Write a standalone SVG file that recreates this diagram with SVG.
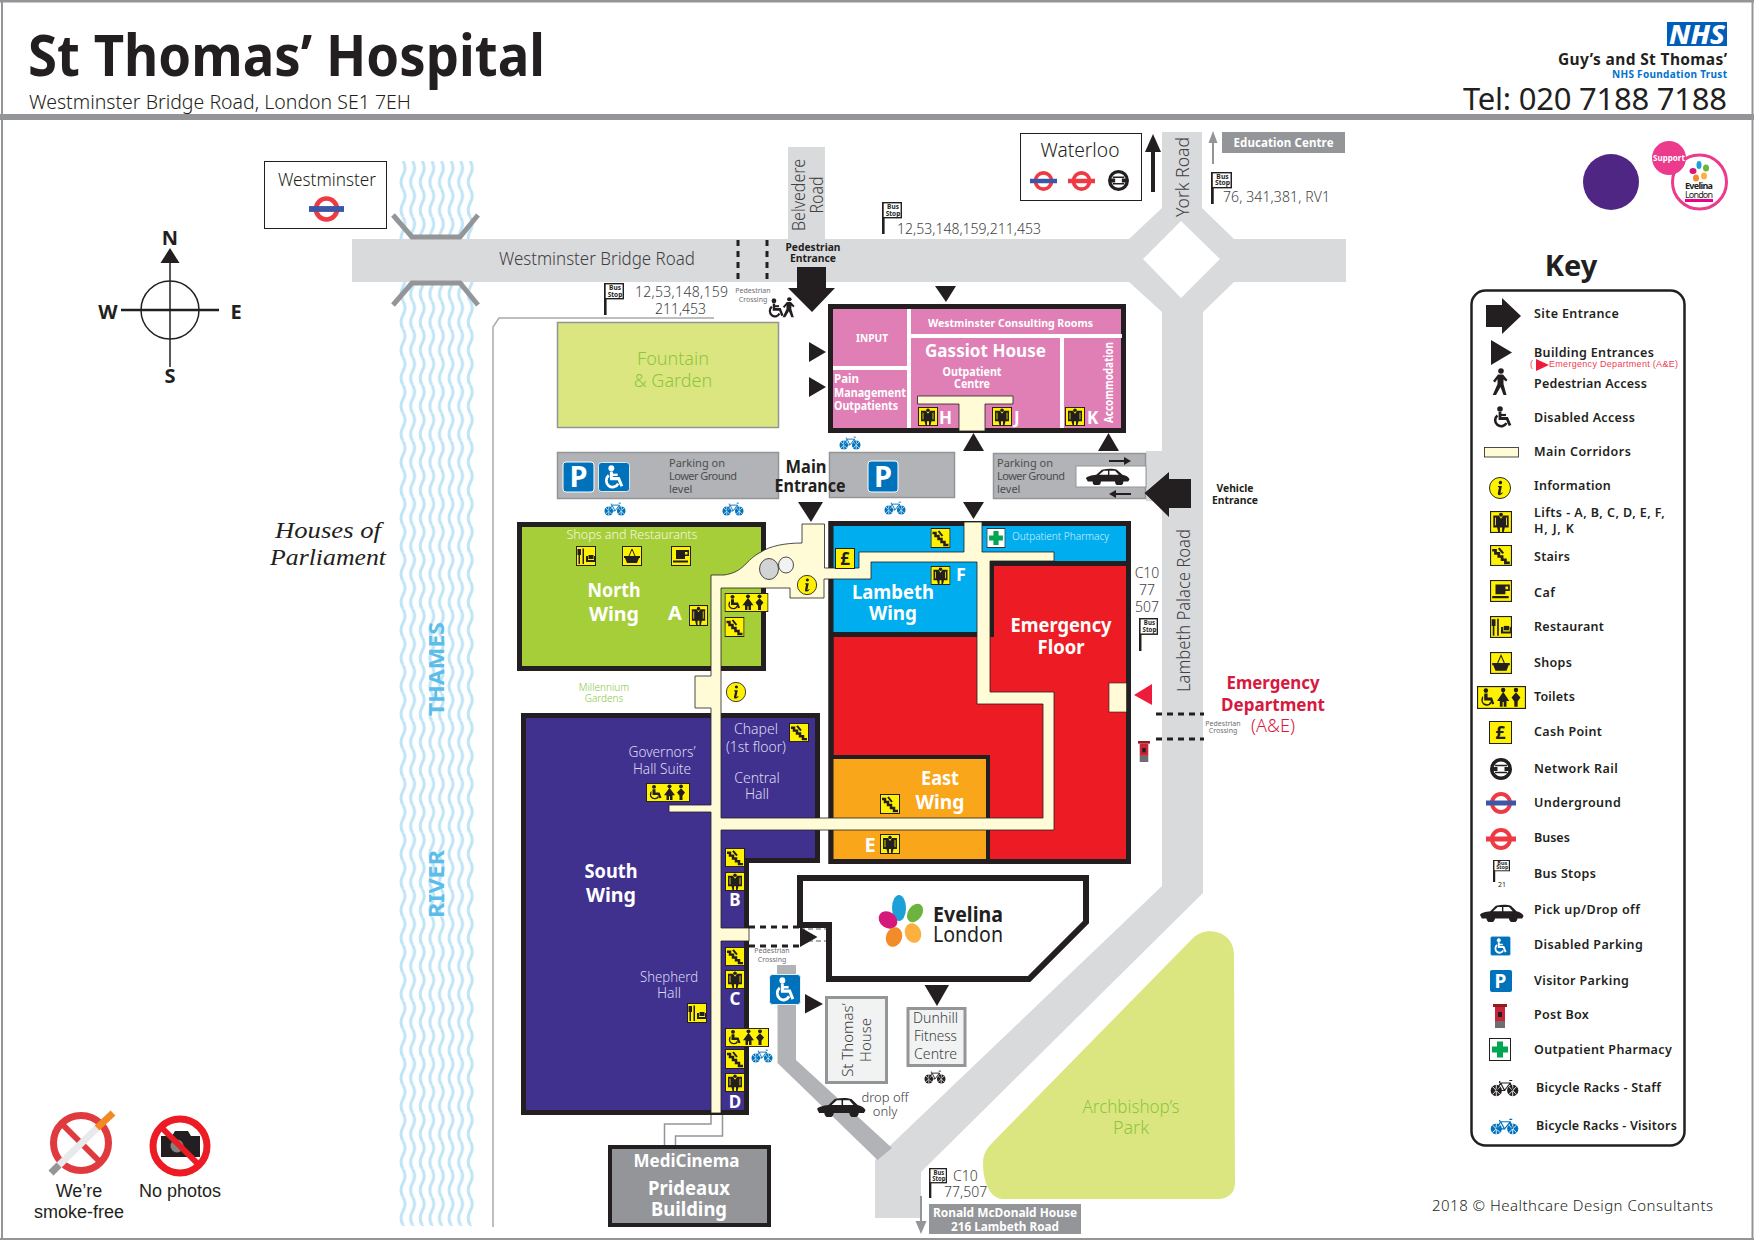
<svg xmlns="http://www.w3.org/2000/svg" width="1754" height="1240" viewBox="0 0 1754 1240">
<style>
text{font-family:"Noto Sans","Open Sans","Liberation Sans",sans-serif;fill:#231f20}
.m{text-anchor:middle}
.b{font-weight:700}
.l{font-weight:300}
.w{fill:#fff}
.k{font-size:12.5px;font-weight:600;letter-spacing:.2px}
.road{fill:#d9dadc}
.lot{fill:#b1b3b6;stroke:#939598;stroke-width:1.5}
.blk{fill:#231f20}
.ptxt{font-size:11px;fill:#4d4d4f}
.bus{font-size:14px;fill:#414042;font-weight:300}
.wing{font-size:20px;font-weight:700;fill:#fff;text-anchor:middle}
.sw{font-size:14px;fill:#dcdcf0;text-anchor:middle;font-weight:300}
.road-t{font-size:18px;fill:#414042;font-weight:300}
.thin{font-size:7px;fill:#6d6e71;text-anchor:middle}
.dash{stroke:#231f20;stroke-width:3;stroke-dasharray:6 5;fill:none}
.white{stroke:#fff;stroke-width:4;fill:none}
.gr{fill:#8cc63f;font-weight:300}
.dk{fill:#414042;font-weight:300}
</style>
<defs>
<pattern id="waves" patternUnits="userSpaceOnUse" x="398" y="161" width="9.6" height="28">
<path d="M5 0Q9 7 5 14T5 28" fill="none" stroke="#bfe4f6" stroke-width="3"/>
</pattern>
<symbol id="i-lift" viewBox="0 0 20 20" preserveAspectRatio="none">
<rect x=".5" y=".5" width="19" height="19" fill="#fff200" stroke="#231f20"/>
<path fill="#231f20" d="M3 4H8L10 7 12 4H17V15H13.500L12.500 19H11V15H9V19H7.500L6.500 15H3Z"/>
<circle cx="10" cy="3.500" r="1.800" fill="#231f20"/>
<path d="M5 6V13M15 6V13" stroke="#fff200" stroke-width=".8"/>
</symbol>
<symbol id="i-stairs" viewBox="0 0 20 20" preserveAspectRatio="none">
<rect x=".5" y=".5" width="19" height="19" fill="#fff200" stroke="#231f20"/>
<path fill="none" stroke="#231f20" stroke-width="2.500" d="M2 5H5V8H8V11H11V14H14V17H18"/>
<path fill="none" stroke="#231f20" stroke-width="2" d="M8 3 12 8"/>
</symbol>
<symbol id="i-cafe" viewBox="0 0 20 20" preserveAspectRatio="none">
<rect x=".5" y=".5" width="19" height="19" fill="#fff200" stroke="#231f20"/>
<path fill="#231f20" d="M5 4H18V10H14V13H5ZM14 6V8.500H16.500V6ZM2 14.500H17V16.500H2Z" fill-rule="evenodd"/>
</symbol>
<symbol id="i-rest" viewBox="0 0 20 20" preserveAspectRatio="none">
<rect x=".5" y=".5" width="19" height="19" fill="#fff200" stroke="#231f20"/>
<path fill="#231f20" d="M1.500 3H5V9H4V18H2.500V9H1.500ZM6.500 2.500H8V18H6.500ZM10 10H12V14H18V10H19V16H10Z"/>
<rect x="12.500" y="9" width="5" height="4" fill="#231f20"/>
</symbol>
<symbol id="i-shop" viewBox="0 0 20 20" preserveAspectRatio="none">
<rect x=".5" y=".5" width="19" height="19" fill="#fff200" stroke="#231f20"/>
<path fill="none" stroke="#231f20" d="M7 10 10 3 13 10"/>
<path fill="#231f20" d="M2 10H18V12H17L15 17H5L3 12H2Z"/>
</symbol>
<symbol id="i-wc" viewBox="0 0 44 20" preserveAspectRatio="none">
<rect x=".5" y=".5" width="43" height="19" fill="#fff200" stroke="#231f20"/>
<g fill="#231f20">
<circle cx="8" cy="4" r="2"/>
<path d="M6.500 6.500H9.500V10H13.500L15.500 15.500 13.500 16 12 12.500H6.500Z"/>
<path d="M5.500 8.500A5 5 0 1 0 13 15L12 13.500A3.200 3.200 0 1 1 5.500 11Z"/>
<circle cx="23.500" cy="3.500" r="2"/><path d="M23.500 5 29 13H26.500V18H24V14H23V18H20.500V13H18Z"/>
<circle cx="35" cy="3.500" r="2"/><path d="M35 5.500 39 10 36.500 13.500V18H33.500V13.500L31 10Z"/>
</g>
</symbol>
<symbol id="i-info" viewBox="0 0 24 24">
<circle cx="12" cy="12" r="11" fill="#fff200" stroke="#231f20" stroke-width="1"/>
<path d="M12.500 4.500a1.800 1.800 0 1 1-.1 0ZM10 10H14L12.500 17C12.300 18 13 18 14.500 16.500L15 17C13 20 9 20.500 9.800 17L11 11.500 9.700 11Z" fill="#231f20"/>
</symbol>
<symbol id="i-bus" viewBox="0 0 20 32" preserveAspectRatio="none">
<rect width="2.600" height="32" fill="#231f20"/>
<rect x="1" y=".7" width="18.300" height="15" fill="#fff" stroke="#231f20" stroke-width="1.400"/>
<text x="11" y="7" class="m b" font-size="6.500">Bus</text>
<text x="11" y="13.500" class="m b" font-size="6.500">Stop</text>
</symbol>
<symbol id="i-bike" viewBox="0 0 30 18" preserveAspectRatio="none">
<g fill="currentColor">
<circle cx="6.500" cy="11.500" r="5.800"/><circle cx="23.500" cy="11.500" r="5.800"/>
</g>
<g stroke="#fff" stroke-width=".9">
<path d="M2.500 7.500 10.500 15.500M2.500 15.500 10.500 7.500M19.500 7.500 27.500 15.500M19.500 15.500 27.500 7.500M6.500 5.500V17.500M23.500 5.500V17.500"/>
</g>
<path d="M6.500 11.500 11 4H21L23.500 11.500M11 4 15 11.500H6.500M15 11.500 21 4M10 2V4M20 1.500H23" fill="none" stroke="currentColor" stroke-width="1.200"/>
</symbol>
<symbol id="i-chair" viewBox="0 0 20 22" preserveAspectRatio="none">
<circle cx="7" cy="3" r="2.800" fill="currentColor"/>
<path d="M7 6V12.500H14L17 19.500" fill="none" stroke="currentColor" stroke-width="2.800"/>
<path d="M7 9H13" fill="none" stroke="currentColor" stroke-width="2.200"/>
<path d="M4.500 9.500A6 6 0 1 0 13.500 17" fill="none" stroke="currentColor" stroke-width="2.600"/>
</symbol>
<symbol id="i-walk" viewBox="0 0 16 28" preserveAspectRatio="none">
<circle cx="9" cy="3" r="2.800" fill="#231f20"/>
<path fill="#231f20" d="M6 6.500H11L15.500 12 14 13.500 11.500 11.500V16L14.500 27H11.500L8.500 19 4 27H.7L5.500 16V11L3 14.500 1 13Z"/>
</symbol>
<symbol id="i-car" viewBox="0 0 48 20" preserveAspectRatio="none">
<path fill="#231f20" d="M1 12C2 10 7 8.500 12 8L18 2C24 .5 30 .5 34 2L40 8C44 9 47 11 47.500 13.500L46 16H41A4.500 4.500 0 0 1 32 16H17A4.500 4.500 0 0 1 8 16H3Z"/>
<path fill="#fff" d="M15 8 20 3.200H24.500V8ZM26 8V3.200H32L36 8Z"/>
<circle cx="12.500" cy="16" r="3.800" fill="#231f20"/><circle cx="36.500" cy="16" r="3.800" fill="#231f20"/>
</symbol>
<symbol id="i-ug" viewBox="0 0 30 24">
<circle cx="15" cy="12" r="9" fill="#fff" stroke="#ee3a43" stroke-width="4"/>
<rect y="9.500" width="30" height="5" fill="#3d56a6"/>
</symbol>
<symbol id="i-bs" viewBox="0 0 30 24">
<circle cx="15" cy="12" r="9" fill="#fff" stroke="#ee3a43" stroke-width="4"/>
<rect y="9.500" width="30" height="5" fill="#ee3a43"/>
</symbol>
<symbol id="i-rail" viewBox="0 0 22 22">
<circle cx="11" cy="11" r="9.300" fill="#fff" stroke="#231f20" stroke-width="3.400"/>
<path d="M2 11H7.500M14.500 11H20" stroke="#231f20" stroke-width="4"/>
<path d="M5 7.500H17M5 14.500H17" stroke="#231f20" stroke-width="1.600"/>
</symbol>
<symbol id="i-disabled" viewBox="0 0 32 30" preserveAspectRatio="none">
<rect x=".5" y=".5" width="31" height="29" rx="3" fill="#0072bc" stroke="#fff" stroke-width=".8"/>
<use href="#i-chair" x="6" y="3" width="21" height="24" color="#fff"/>
</symbol>
<symbol id="i-post" viewBox="0 0 14 24" preserveAspectRatio="none">
<rect x="0" y="0" width="14" height="3" fill="#8f1d21"/>
<rect x="2" y="3" width="10" height="14" fill="#c8243a"/>
<rect x="5" y="8" width="4" height="5" fill="#231f20"/>
<rect x="2" y="17" width="10" height="7" fill="#6d6e71"/>
</symbol>
<symbol id="i-pharm" viewBox="0 0 22 23" preserveAspectRatio="none">
<rect x=".5" y=".5" width="21" height="22" fill="#fff" stroke="#231f20"/>
<path fill="#00a651" d="M8 3.500H14V8.500H19V14.500H14V19.500H8V14.500H3V8.500H8Z"/>
</symbol>
</defs>

<rect width="1754" height="1240" fill="#fff"/>

<g id="frame" fill="#939598">
<rect width="1754" height="2.500"/>
<rect x="0" y="114" width="1754" height="6"/>
<rect x="1" width="2" height="1240"/>
<rect x="1751.500" width="2" height="1240"/>
<rect y="1238" width="1754" height="2"/>
</g>

<g id="header">
<text x="28" y="76" font-size="57" class="b" textLength="517" lengthAdjust="spacingAndGlyphs">St Thomas’ Hospital</text>
<text x="29" y="109" font-size="20" class="l" fill="#414042" textLength="382" lengthAdjust="spacingAndGlyphs">Westminster Bridge Road, London SE1 7EH</text>
<g id="nhs-logo">
<rect x="1667" y="22" width="60" height="24" fill="#005eb8"/>
<text x="1697" y="43.500" font-size="26" class="m w" font-weight="800" font-style="italic" textLength="56" lengthAdjust="spacingAndGlyphs">NHS</text>
</g>
<text x="1558" y="64.500" font-size="15.500" class="b" textLength="169">Guy’s and St Thomas’</text>
<text x="1612" y="78" font-size="10" class="b" style="fill:#0072ce" textLength="115">NHS Foundation Trust</text>
<text x="1463" y="110" font-size="31" textLength="264">Tel: 020 7188 7188</text>
</g>

<g id="river">
<rect x="398" y="161" width="76" height="1065" fill="url(#waves)"/>
</g>

<g id="roads">
<rect class="road" x="788" y="147" width="37" height="92"/>
<rect class="road" x="352" y="239" width="994" height="43"/>
<path class="road" d="M1162 132H1202V208L1234 239V282L1203 312V893L921 1172V1218H875V1160L1162 886V312L1129 282V239L1162 208Z"/>
<path fill="#fff" d="M1181 221 1143 259 1181 298 1220 259Z"/>
<rect class="road" x="1146" y="451" width="17" height="50"/>
<path fill="#b1b3b6" d="M777.500 1005H796V1060L892 1148 877.500 1160 777.500 1063ZM777 965H796V974H777Z"/>
<path fill="none" stroke="#939598" stroke-width="5" d="M393 215 412 237H460L478 215M393 305 412 283H460L478 305"/>
<path fill="none" stroke="#a7a9ac" stroke-width="1.500" d="M714 318H499L493 327V1227"/>
<path fill="none" stroke="#939598" stroke-width="1.500" d="M711 1113V1124H664.500V1145M722.500 1113V1136H675.500V1145"/>
<text class="road-t" x="499" y="265" textLength="196" lengthAdjust="spacingAndGlyphs">Westminster Bridge Road</text>
<text class="road-t" transform="translate(805 195) rotate(-90)" text-anchor="middle" font-size="17" textLength="72" lengthAdjust="spacingAndGlyphs">Belvedere</text>
<text class="road-t" transform="translate(823 195) rotate(-90)" text-anchor="middle" font-size="17" textLength="37" lengthAdjust="spacingAndGlyphs">Road</text>
<text class="road-t" transform="translate(1189 217) rotate(-90)" textLength="80" lengthAdjust="spacingAndGlyphs">York Road</text>
<text class="road-t" transform="translate(1190 692) rotate(-90)" textLength="163" lengthAdjust="spacingAndGlyphs">Lambeth Palace Road</text>
<text x="0" y="0" transform="translate(444 669) rotate(-90)" class="m b" style="fill:#5bbde8" font-size="21" textLength="94" lengthAdjust="spacingAndGlyphs">THAMES</text>
<text x="0" y="0" transform="translate(444 884) rotate(-90)" class="m b" style="fill:#5bbde8" font-size="21" textLength="68" lengthAdjust="spacingAndGlyphs">RIVER</text>
</g>

<g id="compass">
<circle cx="170" cy="310" r="29" fill="none" stroke="#231f20" stroke-width="1.500"/>
<path d="M170 263V367" stroke="#231f20" stroke-width="1.500"/>
<path d="M121 310H219" stroke="#231f20" stroke-width="2.500"/>
<path class="blk" d="M170 248 179.500 263H160.500Z"/>
<text x="170" y="245" class="m b" font-size="20">N</text>
<text x="108" y="319" class="m b" font-size="20">W</text>
<text x="236" y="319" class="m b" font-size="20">E</text>
<text x="170" y="383" class="m b" font-size="20">S</text>
</g>

<g id="westminster-station">
<rect x="264.500" y="161.500" width="122" height="67" fill="#fff" stroke="#231f20"/>
<text x="327" y="186" class="m l" font-size="18" fill="#414042" textLength="98" lengthAdjust="spacingAndGlyphs">Westminster</text>
<use href="#i-ug" x="309" y="195" width="35" height="28"/>
</g>
<g id="waterloo-station">
<rect x="1020.500" y="133.500" width="121" height="67" fill="#fff" stroke="#231f20"/>
<text x="1080" y="157" class="m l" font-size="20" fill="#414042" textLength="79" lengthAdjust="spacingAndGlyphs">Waterloo</text>
<use href="#i-ug" x="1030" y="170" width="27" height="22"/>
<use href="#i-bs" x="1068" y="170" width="27" height="22"/>
<use href="#i-rail" x="1108" y="170" width="21" height="21"/>
</g>

<g id="education">
<rect x="1222" y="132" width="123" height="21" fill="#939598"/>
<text x="1283.500" y="147" class="m b w" font-size="11.500" textLength="100">Education Centre</text>
</g>

<g id="bus-stops">
<use href="#i-bus" x="1211" y="172" width="21" height="32"/>
<text class="bus" x="1223" y="202" textLength="107">76, 341,381, RV1</text>
<use href="#i-bus" x="882" y="202" width="20" height="32"/>
<text class="bus" x="897" y="234" textLength="144">12,53,148,159,211,453</text>
<use href="#i-bus" x="604" y="283" width="20" height="32"/>
<text class="bus" x="635" y="297" textLength="93">12,53,148,159</text>
<text class="bus" x="655" y="314" textLength="51">211,453</text>
<use href="#i-bus" x="1139" y="618" width="19" height="33"/>
<text class="bus m" x="1147" y="578">C10</text>
<text class="bus m" x="1147" y="595">77</text>
<text class="bus m" x="1147" y="612">507</text>
<use href="#i-bus" x="929" y="1168" width="18" height="30"/>
<text class="bus" x="953" y="1181">C10</text>
<text class="bus" x="944" y="1197">77,507</text>
</g>

<g id="fountain-garden">
<rect x="557.500" y="322.500" width="221" height="105" fill="#dce680" stroke="#939598" stroke-width="1.500"/>
<text x="673" y="365" class="m gr" font-size="18">Fountain</text>
<text x="673" y="387" class="m gr" font-size="18">&amp; Garden</text>
</g>

<g id="archbishops-park">
<path fill="#dce680" d="M1193 938C1200 931 1212 929 1222 934 1231 939 1234 947 1234 955L1235 1183C1235 1193 1228 1199 1218 1199H1003C990 1199 983 1182 983 1163 983 1154 987 1148 993 1142Z"/>
<text x="1131" y="1113" class="m gr" font-size="18" textLength="97" lengthAdjust="spacingAndGlyphs">Archbishop’s</text>
<text x="1131" y="1134" class="m gr" font-size="18">Park</text>
</g>

<g id="parking-west">
<rect class="lot" x="557.500" y="452.500" width="221" height="46"/>
<rect x="563" y="462" width="31" height="30" rx="3" fill="#0072bc" stroke="#fff"/>
<text x="578.500" y="487" class="m b w" font-size="29">P</text>
<use href="#i-disabled" x="598" y="462" width="32" height="30"/>
<text class="ptxt" x="669" y="467">Parking on</text>
<text class="ptxt" x="669" y="480" textLength="68">Lower Ground</text>
<text class="ptxt" x="669" y="493">level</text>
</g>
<g id="parking-mid">
<rect class="lot" x="829.500" y="452.500" width="125" height="45"/>
<rect x="868" y="461" width="30" height="31" rx="3" fill="#0072bc" stroke="#fff"/>
<text x="883" y="487" class="m b w" font-size="29">P</text>
</g>
<g id="parking-east">
<rect class="lot" x="993.500" y="453.500" width="152" height="45"/>
<rect x="1076" y="466" width="70" height="21" fill="#fff" stroke="#939598"/>
<use href="#i-car" x="1085" y="468" width="45" height="17"/>
<text class="ptxt" x="997" y="467">Parking on</text>
<text class="ptxt" x="997" y="480" textLength="68">Lower Ground</text>
<text class="ptxt" x="997" y="493">level</text>
<path class="blk" d="M1109 460H1124V457L1131 461 1124 465V462H1109ZM1131 493H1116V490L1109 494 1116 498V495H1131Z"/>
</g>

<g id="north-wing">
<rect x="519.500" y="524.500" width="244" height="144" fill="#a6ce39" stroke="#231f20" stroke-width="5"/>
<text x="632" y="539" class="m l" font-size="13" style="fill:#f4f8e0" textLength="131" lengthAdjust="spacingAndGlyphs">Shops and Restaurants</text>
<use href="#i-rest" x="576" y="546" width="20" height="20"/>
<use href="#i-shop" x="622" y="546" width="20" height="20"/>
<use href="#i-cafe" x="671" y="546" width="20" height="20"/>
<text x="614" y="597" class="wing" textLength="53" lengthAdjust="spacingAndGlyphs">North</text>
<text x="614" y="621" class="wing" textLength="50" lengthAdjust="spacingAndGlyphs">Wing</text>
<text x="675" y="620" class="wing">A</text>
<use href="#i-lift" x="689" y="605" width="19" height="21"/>
</g>

<g id="south-wing">
<path fill="#40318f" stroke="#231f20" stroke-width="5" d="M523.500 715.500H817.500V860.500H746.500V1112.500H523.500Z"/>
<text x="611" y="878" class="wing" textLength="53" lengthAdjust="spacingAndGlyphs">South</text>
<text x="611" y="902" class="wing" textLength="50" lengthAdjust="spacingAndGlyphs">Wing</text>
<text x="662" y="757" class="sw" textLength="67" lengthAdjust="spacingAndGlyphs">Governors’</text>
<text x="662" y="774" class="sw" textLength="58" lengthAdjust="spacingAndGlyphs">Hall Suite</text>
<text x="756" y="734" class="sw">Chapel</text>
<text x="756" y="752" class="sw" textLength="60" lengthAdjust="spacingAndGlyphs">(1st floor)</text>
<text x="757" y="783" class="sw">Central</text>
<text x="757" y="799" class="sw">Hall</text>
<text x="669" y="982" class="sw" textLength="58" lengthAdjust="spacingAndGlyphs">Shepherd</text>
<text x="669" y="998" class="sw">Hall</text>
</g>

<g id="east-block">
<rect x="831" y="523.500" width="297.500" height="338" fill="#ed1c24" stroke="#231f20" stroke-width="5"/>
<path fill="#00aeef" d="M833 526H1126.500V561H990V632H833Z"/>
<path class="blk" d="M833 632H977V637H833ZM990 561H1126.500V566H994V637H990Z"/>
<path fill="#faa61a" stroke="#231f20" stroke-width="4" d="M831 757H988V861H831Z"/>
<rect x="831" y="523.500" width="297.500" height="338" fill="none" stroke="#231f20" stroke-width="5"/>
</g>

<g id="gassiot-house">
<rect x="830.500" y="306.500" width="293" height="124" fill="#e07fb5" stroke="#231f20" stroke-width="5"/>
<path class="white" d="M909 309V428M909 336H1122M1062 336V428M833 368H909"/>
<text x="872" y="342" class="m b w" font-size="11" textLength="32" lengthAdjust="spacingAndGlyphs">INPUT</text>
<text x="928" y="327" class="b w" font-size="11" textLength="165" lengthAdjust="spacingAndGlyphs">Westminster Consulting Rooms</text>
<text x="925" y="357" class="b w" font-size="18" textLength="121" lengthAdjust="spacingAndGlyphs">Gassiot House</text>
<text x="972" y="376" class="m b w" font-size="11.500" textLength="59" lengthAdjust="spacingAndGlyphs">Outpatient</text>
<text x="972" y="388" class="m b w" font-size="11.500" textLength="36" lengthAdjust="spacingAndGlyphs">Centre</text>
<text x="834" y="383" class="b w" font-size="11.500">Pain</text>
<text x="834" y="397" class="b w" font-size="11.500" textLength="72" lengthAdjust="spacingAndGlyphs">Management</text>
<text x="834" y="410" class="b w" font-size="11.500" textLength="64" lengthAdjust="spacingAndGlyphs">Outpatients</text>
<text transform="translate(1113 423) rotate(-90)" class="b w" font-size="12" textLength="81" lengthAdjust="spacingAndGlyphs">Accommodation</text>
<path fill="#fffbd6" stroke="#231f20" stroke-width=".8" d="M917.500 396H1013V404H985V431H959V404H917.500Z"/>
<use href="#i-lift" x="918" y="407" width="20" height="19"/>
<text x="939" y="424" class="b w" font-size="17">H</text>
<use href="#i-lift" x="992" y="407" width="20" height="19"/>
<text x="1014" y="424" class="b w" font-size="17">J</text>
<use href="#i-lift" x="1065" y="407" width="20" height="19"/>
<text x="1087" y="424" class="b w" font-size="17">K</text>
</g>

<g id="corridors">
<path fill="#fffbd6" stroke="#231f20" stroke-width=".8" fill-rule="evenodd" d="M711 575H724C745 572 745 560 761 552 770 546 785 543 802 543V524H824.500V568H859V552H964V522H982V552H1054V561H990V692H1054V830H721V928H749V941H721V1113H711V812H669V805H711V708H695V676H711ZM721 588V818H1043V704H977V562H871V579H824V598H790V588Z"/>
<ellipse cx="769" cy="569" rx="9.500" ry="10.500" fill="#d1d3d4" stroke="#231f20" stroke-width=".8"/>
<ellipse cx="786" cy="565" rx="7.500" ry="8" fill="#f1f2f2" stroke="#231f20" stroke-width=".8"/>
<rect x="1109" y="683" width="17.500" height="29" fill="#fffbd6" stroke="#231f20" stroke-width=".6"/>
</g>

<g id="lambeth-wing">
<text x="893" y="599" class="wing" textLength="82" lengthAdjust="spacingAndGlyphs">Lambeth</text>
<text x="893" y="620" class="wing" textLength="48" lengthAdjust="spacingAndGlyphs">Wing</text>
<use href="#i-lift" x="930.500" y="566" width="20" height="19"/>
<text x="961" y="581" class="wing" style="font-size:18px">F</text>
<use href="#i-stairs" x="930.500" y="528" width="20" height="20"/>
<rect x="835.500" y="548.500" width="19" height="20" fill="#fff200" stroke="#231f20"/>
<text x="845" y="565" class="m b" font-size="17">£</text>
<use href="#i-pharm" x="986.500" y="528" width="19" height="20"/>
<text x="1012" y="540" font-size="11" class="l" style="fill:#d5f0fb" textLength="97" lengthAdjust="spacingAndGlyphs">Outpatient Pharmacy</text>
</g>
<g id="emergency-floor">
<text x="1061" y="632" class="wing" textLength="101" lengthAdjust="spacingAndGlyphs">Emergency</text>
<text x="1061" y="654" class="wing" textLength="47" lengthAdjust="spacingAndGlyphs">Floor</text>
</g>
<g id="east-wing">
<text x="940" y="785" class="wing" textLength="38" lengthAdjust="spacingAndGlyphs">East</text>
<text x="940" y="809" class="wing" textLength="49" lengthAdjust="spacingAndGlyphs">Wing</text>
<use href="#i-stairs" x="880" y="794" width="20" height="20"/>
<text x="870" y="852" class="wing">E</text>
<use href="#i-lift" x="880" y="834" width="20" height="20"/>
</g>

<g id="south-facilities">
<use href="#i-info" x="796.500" y="574.500" width="21" height="21"/>
<use href="#i-info" x="725.500" y="681.500" width="21" height="21"/>
<use href="#i-wc" x="724.500" y="593" width="44" height="19"/>
<use href="#i-stairs" x="724.500" y="617" width="20" height="20"/>
<use href="#i-wc" x="646" y="783" width="44" height="19"/>
<use href="#i-stairs" x="789" y="723" width="20" height="19"/>
<use href="#i-stairs" x="725" y="848" width="20" height="19"/>
<use href="#i-lift" x="725" y="872" width="20" height="19"/>
<text x="735" y="906" class="wing" style="font-size:17px">B</text>
<use href="#i-stairs" x="725" y="947" width="20" height="19"/>
<use href="#i-lift" x="725" y="970" width="20" height="19"/>
<text x="735" y="1005" class="wing" style="font-size:17px">C</text>
<use href="#i-rest" x="687" y="1003" width="20" height="20"/>
<use href="#i-wc" x="725" y="1028" width="44" height="19"/>
<use href="#i-stairs" x="725" y="1049" width="20" height="20"/>
<use href="#i-lift" x="725" y="1073" width="20" height="19"/>
<text x="735" y="1108" class="wing" style="font-size:17px">D</text>
</g>

<g id="evelina">
<path fill="#fff" stroke="#231f20" stroke-width="6" d="M800 878H1086V922L1029 979H829V925H800Z"/>
<g transform="translate(-1 0)">
<ellipse cx="900" cy="908" rx="7" ry="13" fill="#1ba0d8"/>
<ellipse cx="916" cy="913" rx="7" ry="10" fill="#6cb33f" transform="rotate(35 916 913)"/>
<ellipse cx="889" cy="920" rx="8" ry="10" fill="#d6187a" transform="rotate(-55 889 920)"/>
<ellipse cx="895" cy="937" rx="8" ry="10" fill="#f28c28" transform="rotate(20 895 937)"/>
<ellipse cx="914" cy="933" rx="8" ry="10" fill="#fbb040" transform="rotate(-20 914 933)"/>
</g>
<text x="933" y="922" class="b" font-size="22" textLength="70" lengthAdjust="spacingAndGlyphs">Evelina</text>
<text x="933" y="942" font-size="22" textLength="70" lengthAdjust="spacingAndGlyphs">London</text>
</g>

<g id="st-thomas-house">
<rect x="826.500" y="997.500" width="60" height="85" fill="#f1f2f2" stroke="#939598" stroke-width="3"/>
<text transform="translate(853 1040) rotate(-90)" class="m dk" font-size="15">St Thomas’</text>
<text transform="translate(871 1040) rotate(-90)" class="m dk" font-size="15">House</text>
</g>
<g id="dunhill">
<rect x="908" y="1008.500" width="57" height="57" fill="#f1f2f2" stroke="#939598" stroke-width="3"/>
<text x="935.500" y="1023" class="m dk" font-size="15" textLength="45" lengthAdjust="spacingAndGlyphs">Dunhill</text>
<text x="935.500" y="1041" class="m dk" font-size="15" textLength="43" lengthAdjust="spacingAndGlyphs">Fitness</text>
<text x="935.500" y="1059" class="m dk" font-size="15" textLength="43" lengthAdjust="spacingAndGlyphs">Centre</text>
</g>
<g id="medicinema">
<rect x="610" y="1147" width="159" height="78" fill="#939598" stroke="#231f20" stroke-width="4"/>
<text x="686.500" y="1167" class="wing" style="font-size:18px" textLength="106" lengthAdjust="spacingAndGlyphs">MediCinema</text>
<text x="689" y="1195" class="wing" textLength="82" lengthAdjust="spacingAndGlyphs">Prideaux</text>
<text x="689" y="1216" class="wing" textLength="76" lengthAdjust="spacingAndGlyphs">Building</text>
</g>
<g id="ronald">
<rect x="929" y="1204" width="152" height="30" fill="#939598"/>
<text x="1005" y="1217" class="m b w" font-size="11.500" textLength="144" lengthAdjust="spacingAndGlyphs">Ronald McDonald House</text>
<text x="1005" y="1231" class="m b w" font-size="11.500" textLength="108" lengthAdjust="spacingAndGlyphs">216 Lambeth Road</text>
</g>

<g id="connectors">
<path class="dash" d="M738 240V280M767 240V280" stroke-width="2.500"/>
<path class="dash" d="M1156 714H1204M1156 739H1204"/>
<path class="dash" d="M749 927H800M749 946H800"/>
<path fill="none" stroke="#939598" stroke-width="1.500" stroke-dasharray="5 3" d="M800 929H826M800 941H826"/>
<path class="blk" d="M797 267H826V288H835L812 312 788 288H797Z"/>
<path class="blk" d="M1144.500 493 1169 472V479H1191V508H1169V517Z"/>
<path class="blk" d="M935 286H956L946 302ZM809 342 826 352 809 362ZM809 377 826 387 809 397ZM963 451H984L973.500 433ZM1098 451H1119L1108.500 433ZM798 502H823L811 522ZM963 502H984L973.500 519ZM800 927 817.500 937 800 947ZM805 994 823 1004 805 1013.500ZM924.500 985H949L937 1006Z"/>
<path fill="#ed1c3c" d="M1134 695 1152 684V705Z"/>
<path d="M1153 192V145" stroke="#231f20" stroke-width="4"/><path class="blk" d="M1153 134 1161 152H1145Z"/>
<path d="M1213 164V140" stroke="#939598" stroke-width="2"/><path fill="#939598" d="M1213 131 1217.500 143H1208.500Z"/>
<path d="M921 1196V1225" stroke="#939598" stroke-width="2"/><path fill="#939598" d="M921 1234 915.500 1221H926.500Z"/>
</g>

<g id="labels">
<text x="328" y="538" class="m" font-size="24" font-style="italic" style="font-family:'Liberation Serif',serif" textLength="106" lengthAdjust="spacingAndGlyphs">Houses of</text>
<text x="328" y="565" class="m" font-size="24" font-style="italic" style="font-family:'Liberation Serif',serif" textLength="116" lengthAdjust="spacingAndGlyphs">Parliament</text>
<text x="813" y="251" class="m b" font-size="11" textLength="55" lengthAdjust="spacingAndGlyphs">Pedestrian</text>
<text x="813" y="262" class="m b" font-size="11" textLength="46" lengthAdjust="spacingAndGlyphs">Entrance</text>
<text x="806" y="473" class="m b" font-size="18" textLength="41" lengthAdjust="spacingAndGlyphs">Main</text>
<text x="810" y="492" class="m b" font-size="18" textLength="71" lengthAdjust="spacingAndGlyphs">Entrance</text>
<text x="1235" y="492" class="m b" font-size="11" textLength="37" lengthAdjust="spacingAndGlyphs">Vehicle</text>
<text x="1235" y="504" class="m b" font-size="11" textLength="46" lengthAdjust="spacingAndGlyphs">Entrance</text>
<text x="1273" y="689" class="m b" font-size="18" style="fill:#d7193f" textLength="93" lengthAdjust="spacingAndGlyphs">Emergency</text>
<text x="1273" y="711" class="m b" font-size="18" style="fill:#d7193f" textLength="104" lengthAdjust="spacingAndGlyphs">Department</text>
<text x="1273" y="732" class="m l" font-size="18" style="fill:#d7193f">(A&amp;E)</text>
<text class="thin" x="753" y="293">Pedestrian</text>
<text class="thin" x="753" y="302">Crossing</text>
<text class="thin" x="772" y="953">Pedestrian</text>
<text class="thin" x="772" y="962">Crossing</text>
<text class="thin" x="1223" y="726">Pedestrian</text>
<text class="thin" x="1223" y="733">Crossing</text>
<text x="604" y="691" class="m gr" font-size="10">Millennium</text>
<text x="604" y="702" class="m gr" font-size="10">Gardens</text>
<text x="885" y="1102" class="m dk" font-size="13">drop off</text>
<text x="885" y="1116" class="m dk" font-size="13">only</text>
<text x="1432" y="1211" font-size="15" fill="#58595b" class="l" textLength="281">2018 ©  Healthcare Design Consultants</text>
</g>

<g id="map-icons">
<use href="#i-chair" x="768" y="298" width="17" height="20" color="#231f20"/>
<use href="#i-walk" x="782" y="297" width="13" height="21"/>
<use href="#i-bike" x="604" y="502" width="22" height="14" color="#0072bc"/>
<use href="#i-bike" x="722" y="502" width="22" height="14" color="#0072bc"/>
<use href="#i-bike" x="884" y="501" width="22" height="14" color="#0072bc"/>
<use href="#i-bike" x="839" y="436" width="22" height="14" color="#0072bc"/>
<use href="#i-bike" x="751" y="1049" width="22" height="14" color="#0072bc"/>
<use href="#i-bike" x="924" y="1070" width="22" height="14" color="#231f20"/>
<use href="#i-post" x="1138" y="741" width="12" height="21"/>
<use href="#i-disabled" x="769" y="974" width="32" height="31"/>
<use href="#i-car" x="816" y="1097" width="50" height="20"/>
</g>

<g id="no-smoking">
<circle cx="81" cy="1143" r="27.500" fill="#fff" stroke="#e03a3e" stroke-width="7"/>
<path d="M62 1124 100 1162" stroke="#e03a3e" stroke-width="6"/>
<path d="M51 1173 97 1128" stroke="#e8e9ea" stroke-width="7"/>
<path d="M51 1173 59 1165" stroke="#939598" stroke-width="7"/>
<path d="M97 1128 113 1113" stroke="#f08a24" stroke-width="7"/>
<text x="79" y="1197" class="m" font-size="18" style="font-family:'Liberation Sans',sans-serif">We’re</text>
<text x="79" y="1218" class="m" font-size="18" style="font-family:'Liberation Sans',sans-serif">smoke-free</text>
</g>
<g id="no-photos">
<circle cx="180" cy="1146" r="27" fill="#fff" stroke="#ed1c24" stroke-width="7"/>
<path class="blk" d="M161 1136H172L175 1131H188L191 1136H200V1157H161Z"/>
<circle cx="177" cy="1146" r="6.500" fill="#808285"/>
<path d="M161 1127 199 1165" stroke="#ed1c24" stroke-width="6"/>
<text x="180" y="1197" class="m" font-size="18" style="font-family:'Liberation Sans',sans-serif">No photos</text>
</g>

<g id="charity-logos">
<circle cx="1611" cy="182" r="28" fill="#4f2683"/>
<circle cx="1699.500" cy="182" r="27" fill="#fff" stroke="#ec3a8d" stroke-width="3"/>
<circle cx="1669" cy="158" r="17" fill="#ec3a8d"/>
<text x="1669" y="161" class="m b w" font-size="8">Support</text>
<g>
<ellipse cx="1699" cy="165" rx="2.500" ry="4" fill="#1ba0d8"/>
<ellipse cx="1706" cy="168" rx="3" ry="3.500" fill="#6cb33f"/>
<ellipse cx="1693" cy="171" rx="3.500" ry="3" fill="#d6187a"/>
<ellipse cx="1696" cy="178" rx="3" ry="3.500" fill="#f28c28"/>
<ellipse cx="1704" cy="176" rx="3" ry="3.500" fill="#fbb040"/>
</g>
<text x="1699" y="189" class="m b" font-size="9" textLength="28">Evelina</text>
<text x="1699" y="198" class="m" font-size="9" textLength="28">London</text>
<rect x="1685" y="199" width="28" height="3" fill="#ec008c"/>
</g>

<g id="key">
<text x="1571" y="276" class="m b" font-size="29">Key</text>
<rect x="1471.500" y="290.500" width="213" height="855" rx="14" fill="#fff" stroke="#231f20" stroke-width="2.500"/>
<path class="blk" d="M1486 305H1502V298L1521 316 1502 334V327H1486Z"/>
<path class="blk" d="M1491 340 1512 352.500 1491 365Z"/>
<use href="#i-walk" x="1492" y="368" width="16" height="28"/>
<use href="#i-chair" x="1493" y="406" width="20" height="22" color="#231f20"/>
<rect x="1484.500" y="447.500" width="34" height="9.500" fill="#fffbd6" stroke="#231f20" stroke-width=".8"/>
<use href="#i-info" x="1488.500" y="476.500" width="23" height="23"/>
<use href="#i-lift" x="1490" y="511" width="22" height="22"/>
<use href="#i-stairs" x="1490" y="545" width="22" height="21"/>
<use href="#i-cafe" x="1490" y="580" width="22" height="22"/>
<use href="#i-rest" x="1490" y="616" width="22" height="22"/>
<use href="#i-shop" x="1490" y="652" width="22" height="22"/>
<use href="#i-wc" x="1477" y="686" width="49" height="23"/>
<rect x="1489.500" y="721.500" width="22" height="22" fill="#fff200" stroke="#231f20"/>
<text x="1500.500" y="739" class="m b" font-size="18">£</text>
<use href="#i-rail" x="1490" y="758" width="22" height="22"/>
<use href="#i-ug" x="1486" y="791" width="30" height="24"/>
<use href="#i-bs" x="1486" y="827" width="30" height="24"/>
<use href="#i-bus" x="1493" y="860" width="17" height="22"/>
<text x="1498" y="887" font-size="7" fill="#414042">21</text>
<use href="#i-car" x="1479" y="904" width="45" height="18"/>
<use href="#i-disabled" x="1490" y="936" width="21" height="20"/>
<rect x="1490" y="970" width="22" height="22" rx="2" fill="#0072bc"/>
<text x="1500.500" y="988" class="m b w" font-size="19">P</text>
<use href="#i-post" x="1493" y="1004" width="14" height="24"/>
<use href="#i-pharm" x="1489" y="1038" width="22" height="23"/>
<use href="#i-bike" x="1490" y="1079" width="29" height="18" color="#231f20"/>
<use href="#i-bike" x="1490" y="1118" width="29" height="17" color="#0072bc"/>
<g class="keytext">
<text class="k" x="1534" y="318" textLength="85">Site Entrance</text>
<text class="k" x="1534" y="357" textLength="120">Building Entrances</text>
<text x="1530" y="367" font-size="9" style="font-family:'Liberation Sans',sans-serif;fill:#ee4055">(</text>
<path fill="#ed1c3c" d="M1536 359 1549 365 1536 371Z"/>
<text x="1549" y="367" font-size="9" style="font-family:'Liberation Sans',sans-serif;fill:#ee4055" textLength="129">Emergency Department (A&amp;E)</text>
<text class="k" x="1534" y="388" textLength="113">Pedestrian Access</text>
<text class="k" x="1534" y="422" textLength="101">Disabled Access</text>
<text class="k" x="1534" y="455.500" textLength="97">Main Corridors</text>
<text class="k" x="1534" y="490" textLength="77">Information</text>
<text class="k" x="1534" y="517" textLength="131">Lifts - A, B, C, D, E, F,</text>
<text class="k" x="1534" y="533" textLength="40">H, J, K</text>
<text class="k" x="1534" y="561" textLength="36">Stairs</text>
<text class="k" x="1534" y="597" textLength="21">Caf</text>
<text class="k" x="1534" y="631" textLength="70">Restaurant</text>
<text class="k" x="1534" y="667" textLength="38">Shops</text>
<text class="k" x="1534" y="700.500" textLength="41">Toilets</text>
<text class="k" x="1534" y="736" textLength="68">Cash Point</text>
<text class="k" x="1534" y="773" textLength="84">Network Rail</text>
<text class="k" x="1534" y="806.500" textLength="87">Underground</text>
<text class="k" x="1534" y="842" textLength="36">Buses</text>
<text class="k" x="1534" y="878" textLength="62">Bus Stops</text>
<text class="k" x="1534" y="914" textLength="106">Pick up/Drop off</text>
<text class="k" x="1534" y="949" textLength="109">Disabled Parking</text>
<text class="k" x="1534" y="985" textLength="95">Visitor Parking</text>
<text class="k" x="1534" y="1019" textLength="55">Post Box</text>
<text class="k" x="1534" y="1054" textLength="138">Outpatient Pharmacy</text>
<text class="k" x="1536" y="1092" textLength="125">Bicycle Racks - Staff</text>
<text class="k" x="1536" y="1130" textLength="141">Bicycle Racks - Visitors</text>
</g>
</g>
</svg>
